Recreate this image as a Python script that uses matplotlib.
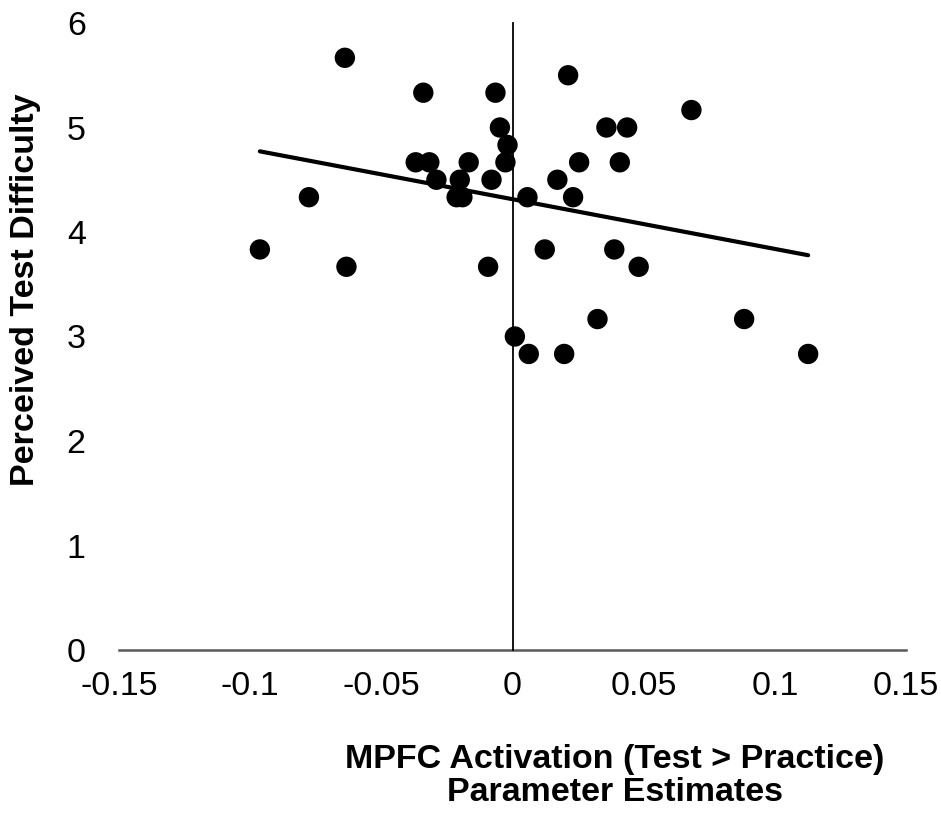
import numpy as np
import matplotlib
matplotlib.use("Agg")
import matplotlib.pyplot as plt

plt.rcParams['font.family'] = ['Liberation Sans', 'DejaVu Sans']

# Data
mpfc = [-0.0639, -0.0340, -0.0065, 0.0212, 0.0682,
        -0.0048, 0.0358, 0.0437, -0.0019,
        -0.0369, -0.0317, -0.0167, -0.0027, 0.0254, 0.0409,
        -0.0290, -0.0201, -0.0080, 0.0171,
        -0.0776, -0.0213, -0.0191, 0.0057, 0.0231,
        0.0123, 0.0388, -0.0963,
        -0.0633, -0.0093, 0.0481,
        0.0324, 0.0883,
        0.0009,
        0.0062, 0.0197, 0.1127]
difficulty = [5.667, 5.333, 5.333, 5.5, 5.167,
              5.0, 5.0, 5.0, 4.833,
              4.667, 4.667, 4.667, 4.667, 4.667, 4.667,
              4.5, 4.5, 4.5, 4.5,
              4.333, 4.333, 4.333, 4.333, 4.333,
              3.833, 3.833, 3.833,
              3.667, 3.667, 3.667,
              3.167, 3.167,
              3.0,
              2.833, 2.833, 2.833]
xticks = [-0.15, -0.1, -0.05, 0, 0.05, 0.1, 0.15]
xtick_labels = ['-0.15', '-0.1', '-0.05', '0', '0.05', '0.1', '0.15']
yticks = [0, 1, 2, 3, 4, 5, 6]
ylabel = 'Perceived Test Difficulty'
xlabel = 'MPFC Activation (Test > Practice)\nParameter Estimates'

x = np.array(mpfc)
y = np.array(difficulty)

fig = plt.figure(figsize=(9.41, 8.14), dpi=100)
ax = fig.add_axes([119/941, 1 - 650/814, 787/941, 627/814])

ax.scatter(x, y, s=215, color='black', edgecolors='none', zorder=3)

slope, intercept = np.polyfit(x, y, 1)
xs = np.array([x.min(), x.max()])
ax.plot(xs, slope * xs + intercept, color='black', lw=3.0,
        solid_capstyle='round', zorder=4)

ax.set_xlim(-0.15, 0.15)
ax.set_ylim(0, 6)
for s in ['top', 'right', 'left', 'bottom']:
    ax.spines[s].set_visible(False)
ax.axhline(0, color='#5a5a5a', lw=1.8, zorder=2, clip_on=False)
ax.axvline(0, color='black', lw=1.3, zorder=2, clip_on=False)

ax.set_xticks(xticks)
ax.set_xticklabels(xtick_labels)
ax.set_yticks(yticks)
ax.tick_params(axis='both', length=0, labelsize=24.5)
ax.tick_params(axis='x', pad=15)
ax.tick_params(axis='y', pad=24)

fig.text(26/941, 1 - 290/814, ylabel, rotation=90, ha='center', va='center',
         fontsize=24.5, fontweight='bold')
fig.text(615/941, 1 - 776/814, xlabel, ha='center', va='center',
         fontsize=24.5, fontweight='bold', linespacing=1.1)

fig.savefig('out.png', dpi=100)
